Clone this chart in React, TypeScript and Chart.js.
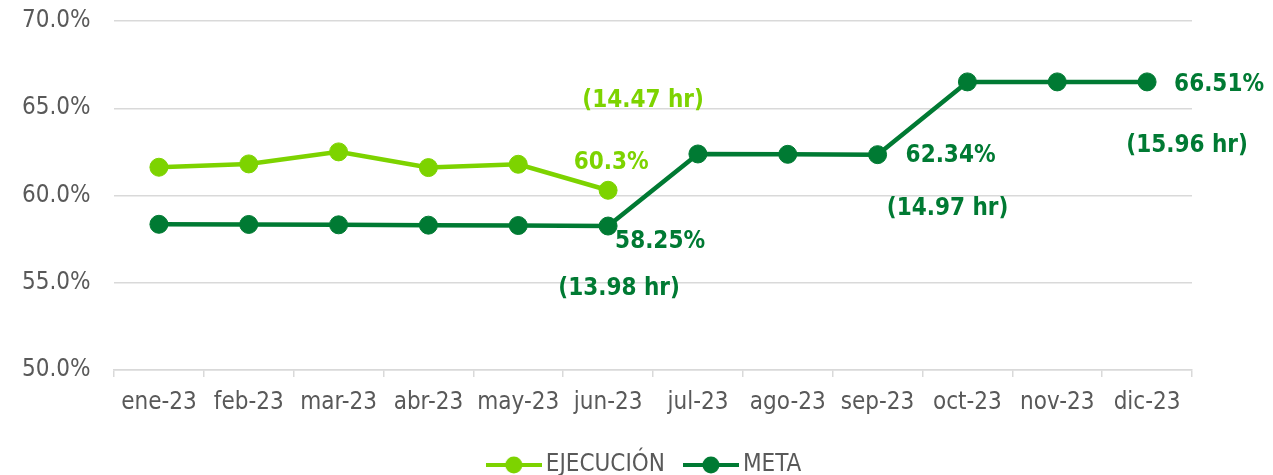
import React, { useEffect, useRef } from "react";
import { Chart, registerables } from "chart.js";

Chart.register(...registerables);

const categories = ["ene-23", "feb-23", "mar-23", "abr-23", "may-23", "jun-23", "jul-23", "ago-23", "sep-23", "oct-23", "nov-23", "dic-23"];
const ejecucion = [61.62, 61.81, 62.5, 61.6, 61.79, 60.3, null, null, null, null, null, null];
const meta = [58.35, 58.34, 58.32, 58.3, 58.28, 58.25, 62.38, 62.36, 62.34, 66.51, 66.51, 66.51];
const seriesNames = ["EJECUCIÓN", "META"];
const seriesColors = ["#7dd300", "#007a33"];
const yMin = 50;
const yMax = 70;
const yStep = 5;

// data labels: series index, point index, text, offset from the point
const labelTexts = [
  { s: 0, i: 5, text: "60.3%", dx: 3, dy: -27 },
  { s: 0, i: 5, text: "(14.47 hr)", dx: 35, dy: -89 },
  { s: 1, i: 5, text: "58.25%", dx: 52, dy: 16 },
  { s: 1, i: 5, text: "(13.98 hr)", dx: 11, dy: 63 },
  { s: 1, i: 8, text: "62.34%", dx: 73, dy: 1.5 },
  { s: 1, i: 8, text: "(14.97 hr)", dx: 70, dy: 54 },
  { s: 1, i: 11, text: "66.51%", dx: 72, dy: 2.5 },
  { s: 1, i: 11, text: "(15.96 hr)", dx: 40, dy: 64 },
];

const FONT = "'DejaVu Sans Condensed', 'DejaVu Sans', sans-serif";
const GRAY = "#595959";
const GRID = "#d9d9d9";

function legendMarker(color: string) {
  const c = document.createElement("canvas");
  c.width = 56;
  c.height = 20;
  const ctx = c.getContext("2d")!;
  ctx.strokeStyle = color;
  ctx.lineWidth = 4;
  ctx.beginPath();
  ctx.moveTo(0, 10);
  ctx.lineTo(56, 10);
  ctx.stroke();
  ctx.fillStyle = color;
  ctx.beginPath();
  ctx.arc(28, 10, 8.5, 0, Math.PI * 2);
  ctx.fill();
  return c;
}

const dataLabelPlugin = {
  id: "dataLabelPlugin",
  afterDatasetsDraw(chart: any) {
    const ctx = chart.ctx;
    ctx.save();
    ctx.font = `bold 24px ${FONT}`;
    ctx.textAlign = "center";
    ctx.textBaseline = "middle";
    labelTexts.forEach((l) => {
      const pt = chart.getDatasetMeta(l.s).data[l.i];
      if (!pt) return;
      ctx.fillStyle = seriesColors[l.s];
      ctx.fillText(l.text, pt.x + l.dx, pt.y + l.dy);
    });
    ctx.restore();
  },
};

export default function App() {
  const ref = useRef<HTMLCanvasElement | null>(null);
  useEffect(() => {
    document.body.style.margin = "0";
    document.body.style.overflow = "hidden";
    const markers = seriesColors.map(legendMarker);
    const chart = new Chart(ref.current!, {
      type: "line",
      data: {
        labels: categories,
        datasets: [ejecucion, meta].map((d, k) => ({
          label: seriesNames[k],
          data: d,
          borderColor: seriesColors[k],
          backgroundColor: seriesColors[k],
          borderWidth: 4.5,
          pointStyle: "circle",
          pointRadius: 9,
          pointBorderWidth: 1,
          pointBackgroundColor: seriesColors[k],
          pointBorderColor: seriesColors[k],
          tension: 0,
          spanGaps: false,
          yAxisID: "y",
        })) as any,
      },
      options: {
        animation: false,
        responsive: false,
        layout: { padding: { left: 22, right: 0, top: 21, bottom: -12 } },
        scales: {
          x: {
            offset: true,
            grid: { display: true, drawOnChartArea: false, drawTicks: true, tickLength: 7, color: GRID, lineWidth: 1.5, offset: true },
            border: { display: true, color: GRID, width: 1.5 },
            ticks: { color: GRAY, font: { family: FONT, size: 24 }, padding: 11, maxRotation: 0, autoSkip: false },
            afterFit: (s: any) => { s.height = 57; },
          },
          y: {
            min: yMin,
            max: yMax,
            grid: { color: GRID, lineWidth: 1.5, drawTicks: false },
            border: { display: false },
            ticks: {
              stepSize: yStep,
              color: GRAY,
              font: { family: FONT, size: 24 },
              padding: 0,
              crossAlign: "far",
              callback: (v: any) => Number(v).toFixed(1) + "%",
            },
            afterFit: (s: any) => { s.width = 92; },
          },
          yRight: {
            position: "right",
            min: yMin,
            max: yMax,
            grid: { display: false, drawTicks: false },
            border: { display: false },
            ticks: { display: false },
            afterFit: (s: any) => { s.width = 81; },
          },
        },
        plugins: {
          legend: {
            position: "bottom",
            labels: {
              usePointStyle: true,
              pointStyleWidth: 40,
              color: GRAY,
              font: { family: FONT, size: 24 },
              padding: 26,
              generateLabels: (chart: any) =>
                chart.data.datasets.map((ds: any, k: number) => ({
                  text: ds.label,
                  fillStyle: seriesColors[k],
                  strokeStyle: seriesColors[k],
                  lineWidth: 0,
                  pointStyle: markers[k],
                  fontColor: GRAY,
                  datasetIndex: k,
                  hidden: false,
                })),
            },
          },
          tooltip: { enabled: false },
        },
      },
      plugins: [dataLabelPlugin],
    } as any);
    return () => chart.destroy();
  }, []);
  return (
    <div style={{ width: 1273, height: 475 }}>
      <canvas ref={ref} width={1273} height={475} style={{ width: 1273, height: 475, display: "block" }} />
    </div>
  );
}
